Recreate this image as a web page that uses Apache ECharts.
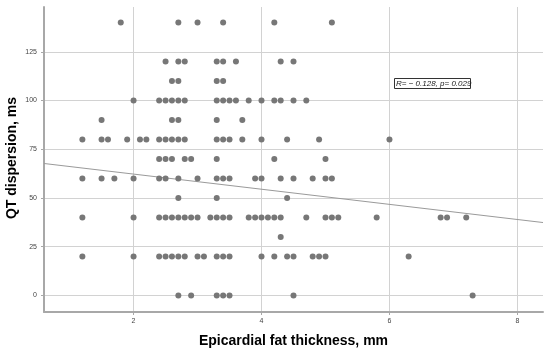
<!DOCTYPE html>
<html>
<head>
<meta charset="utf-8">
<script src="https://cdn.jsdelivr.net/npm/echarts@6/dist/echarts.min.js"></script>
<style>
html,body{margin:0;padding:0;background:#fff;}
#chart{width:550px;height:354px;}
</style>
</head>
<body>
<div id="chart"></div>
<script>
// Epicardial fat thickness (mm) of each point, grouped by QT dispersion (ms) row
const qt140 = [1.8, 2.7, 3.0, 3.4, 4.2, 5.1];
const qt120 = [2.5, 2.7, 2.8, 3.3, 3.4, 3.6, 4.3, 4.5];
const qt110 = [2.6, 2.7, 3.3, 3.4];
const qt100 = [2.0, 2.4, 2.5, 2.6, 2.7, 2.8, 3.3, 3.4, 3.5, 3.6, 3.8, 4.0, 4.2, 4.3, 4.5, 4.7];
const qt90  = [1.5, 2.6, 2.7, 3.3, 3.7];
const qt80  = [1.2, 1.5, 1.6, 1.9, 2.1, 2.2, 2.4, 2.5, 2.6, 2.7, 2.8, 3.3, 3.4, 3.5, 3.7, 4.0, 4.4, 4.9, 6.0];
const qt70  = [2.4, 2.5, 2.6, 2.8, 2.9, 3.3, 4.2, 5.0];
const qt60  = [1.2, 1.5, 1.7, 2.0, 2.4, 2.5, 2.7, 3.0, 3.3, 3.4, 3.5, 3.9, 4.0, 4.3, 4.5, 4.8, 5.0, 5.1];
const qt50  = [2.7, 3.3, 4.4];
const qt40  = [1.2, 2.0, 2.4, 2.5, 2.6, 2.7, 2.8, 2.9, 3.0, 3.2, 3.3, 3.4, 3.5, 3.8, 3.9, 4.0, 4.1, 4.2, 4.3, 4.7, 5.0, 5.1, 5.2, 5.8, 6.8, 6.9, 7.2];
const qt30  = [4.3];
const qt20  = [1.2, 2.0, 2.4, 2.5, 2.6, 2.7, 2.8, 3.0, 3.1, 3.3, 3.4, 3.5, 4.0, 4.2, 4.4, 4.5, 4.8, 4.9, 5.0, 6.3];
const qt0   = [2.7, 2.9, 3.3, 3.4, 3.5, 4.5, 7.3];

const rowValues = [140, 120, 110, 100, 90, 80, 70, 60, 50, 40, 30, 20, 0];
const rowThickness = [qt140, qt120, qt110, qt100, qt90, qt80, qt70, qt60, qt50, qt40, qt30, qt20, qt0];

// fit line end points
const fitX = [0.6, 8.4];
const fitY = [67.7, 37.4];

// tick labels
const xTicks = [2, 4, 6, 8];
const yTicks = [0, 25, 50, 75, 100, 125];

const xTitle = 'Epicardial fat thickness, mm';
const yTitle = 'QT dispersion, ms';
const statText = 'R= \u2212 0.128, p= 0.029';

const points = [];
rowValues.forEach((v, i) => rowThickness[i].forEach(t => points.push([t, v])));
const fitLine = fitX.map((x, i) => [x, fitY[i]]);

const chart = echarts.init(document.getElementById('chart'), null, {renderer: 'canvas'});
const font = 'Arial, "Liberation Sans", sans-serif';
chart.setOption({
  animation: false,
  backgroundColor: '#ffffff',
  grid: {left: 44, top: 7, right: 7, bottom: 42, containLabel: false, outerBoundsMode: 'none'},
  xAxis: {
    type: 'value', min: 0.6, max: 8.4,
    name: xTitle, nameLocation: 'middle', nameGap: 22,
    nameTextStyle: {fontFamily: font, fontSize: 14, fontWeight: 'bold', color: '#000'},
    axisLine: {show: true, onZero: false, lineStyle: {color: '#a8a8a8', width: 2}},
    axisTick: {show: true, customValues: xTicks, length: 3, lineStyle: {color: '#a8a8a8'}},
    axisLabel: {customValues: xTicks, fontFamily: font, fontSize: 7, color: '#444', margin: 6},
    splitLine: {show: true, lineStyle: {color: '#d2d2d2', width: 1}}
  },
  yAxis: {
    type: 'value', min: -8.5, max: 148,
    axisLine: {show: true, onZero: false, lineStyle: {color: '#a8a8a8', width: 2}},
    axisTick: {show: true, customValues: yTicks, length: 3, lineStyle: {color: '#a8a8a8'}},
    axisLabel: {customValues: yTicks, fontFamily: font, fontSize: 7, color: '#444', margin: 7},
    splitLine: {show: true, lineStyle: {color: '#d2d2d2', width: 1}}
  },
  series: [
    {
      type: 'line', data: fitLine, symbol: 'none', silent: true,
      lineStyle: {color: '#9a9a9a', width: 1}, z: 2
    },
    {
      type: 'scatter', data: points, symbol: 'circle', symbolSize: 6,
      itemStyle: {color: '#777777', opacity: 1}, z: 3
    }
  ],
  graphic: [
    {type: 'text', x: 12, y: 158, rotation: Math.PI / 2,
     style: {text: yTitle, fontFamily: font, fontSize: 14, fontWeight: 'bold', fill: '#000', align: 'center', verticalAlign: 'middle'}},
    {type: 'rect', shape: {x: 394.5, y: 78.5, width: 76, height: 10},
     style: {fill: '#fff', stroke: '#333', lineWidth: 1}, z: 10},
    {type: 'text', x: 396, y: 83.5,
     style: {text: statText, fontFamily: font, fontSize: 8, fontStyle: 'italic', fill: '#222', verticalAlign: 'middle', align: 'left'}, z: 11}
  ]
});
</script>
</body>
</html>
